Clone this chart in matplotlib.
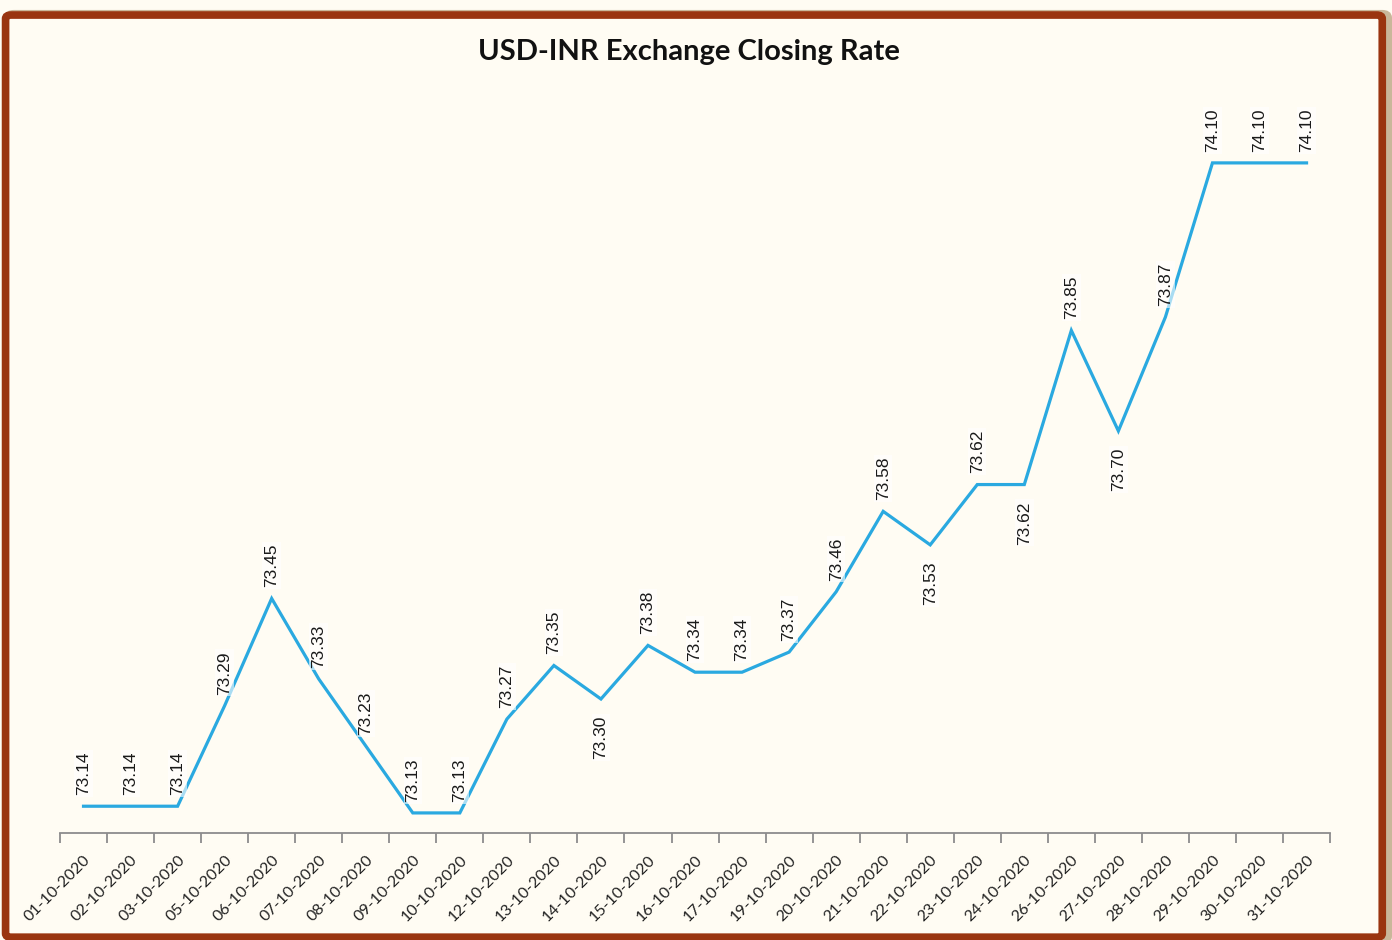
import matplotlib
matplotlib.use("Agg")
from matplotlib import pyplot as plt
from matplotlib.patches import FancyBboxPatch

dates = ["01-10-2020", "02-10-2020", "03-10-2020", "05-10-2020", "06-10-2020",
         "07-10-2020", "08-10-2020", "09-10-2020", "10-10-2020", "12-10-2020",
         "13-10-2020", "14-10-2020", "15-10-2020", "16-10-2020", "17-10-2020",
         "19-10-2020", "20-10-2020", "21-10-2020", "22-10-2020", "23-10-2020",
         "24-10-2020", "26-10-2020", "27-10-2020", "28-10-2020", "29-10-2020",
         "30-10-2020", "31-10-2020"]
rates = [73.14, 73.14, 73.14, 73.29, 73.45, 73.33, 73.23, 73.13, 73.13, 73.27,
         73.35, 73.30, 73.38, 73.34, 73.34, 73.37, 73.46, 73.58, 73.53, 73.62,
         73.62, 73.85, 73.70, 73.87, 74.10, 74.10, 74.10]
# labels drawn under the point instead of above
below = ["14-10-2020", "22-10-2020", "24-10-2020", "27-10-2020"]

bg = "#fffcf3"
fig = plt.figure(figsize=(13.92, 9.4), dpi=100, facecolor=bg)

# brown frame with a soft shadow
shadow = FancyBboxPatch((0.006, 0.0), 0.991, 0.985, boxstyle="round,pad=0,rounding_size=0.004",
                        transform=fig.transFigure, facecolor="none", edgecolor="#c9b79a",
                        linewidth=6, zorder=-2)
frame = FancyBboxPatch((0.004, 0.003), 0.989, 0.981, boxstyle="round,pad=0,rounding_size=0.004",
                       transform=fig.transFigure, facecolor=bg, edgecolor="#9a3510",
                       linewidth=5.5, zorder=-1)
fig.patches.extend([shadow, frame])

ax = fig.add_axes([0.0431, 0.1138, 0.9124, 0.7842])
ax.set_zorder(2)
ax.set_facecolor("none")
x = list(range(len(dates)))
ax.plot(x, rates, color="#2aa9e0", linewidth=2.3, solid_joinstyle="miter")

ax.set_xlim(-0.5, len(dates) - 0.5)
ax.set_ylim(73.10, 74.20)

for xi, d, r in zip(x, dates, rates):
    if d in below:
        ax.annotate(f"{r:.2f}", (xi, r), xytext=(0, -12), textcoords="offset points",
                    rotation=90, ha="center", va="top", fontsize=12.5,
                    family="Liberation Sans", color="#1a1a1a",
                    bbox=dict(boxstyle="square,pad=0.1", fc="white", ec="none", alpha=0.6))
    else:
        ax.annotate(f"{r:.2f}", (xi, r), xytext=(0, 8), textcoords="offset points",
                    rotation=90, ha="center", va="bottom", fontsize=12.5,
                    family="Liberation Sans", color="#1a1a1a",
                    bbox=dict(boxstyle="square,pad=0.1", fc="white", ec="none", alpha=0.6))

for s in ["top", "right", "left"]:
    ax.spines[s].set_visible(False)
ax.spines["bottom"].set_color("#8c8c8c")
ax.spines["bottom"].set_linewidth(1.3)
ax.set_yticks([])

ax.set_xticks(x)
ax.set_xticklabels(dates, rotation=45, ha="right", va="top", rotation_mode="anchor",
                   fontsize=11.5, family="Lato", color="#222222")
ax.tick_params(axis="x", which="major", length=0, pad=14)
ax.set_xticks([i - 0.5 for i in range(len(dates) + 1)], minor=True)
ax.tick_params(axis="x", which="minor", length=7, width=1.3, color="#8c8c8c")

fig.text(0.495, 0.945, "USD-INR Exchange Closing Rate", ha="center", va="center",
         fontsize=21, fontweight="bold", family="Lato", color="#111111")

fig.savefig("out.png", dpi=100, facecolor=bg)
